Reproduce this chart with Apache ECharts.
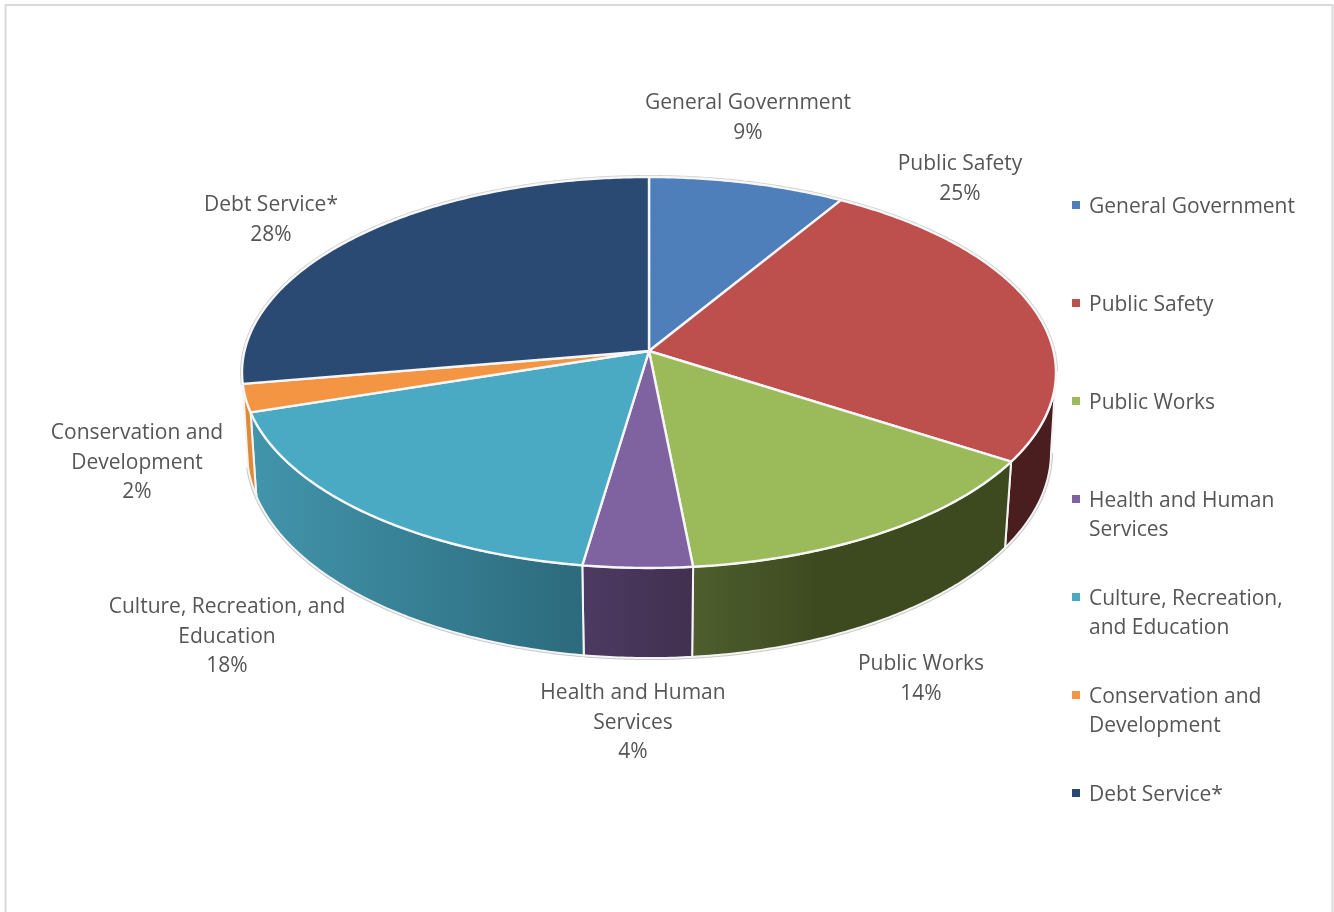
<!DOCTYPE html>
<html><head><meta charset="utf-8">
<style>html,body{margin:0;padding:0;background:#fff}#c{width:1334px;height:912px}</style>
<script src="https://cdn.jsdelivr.net/npm/echarts@6/dist/echarts.min.js"></script>
</head><body><div id="c"></div>
<script>
const categories = ['General Government','Public Safety','Public Works','Health and Human Services','Culture, Recreation, and Education','Conservation and Development','Debt Service*'];
const values = [8.7,25.4,14.4,3.9,17.7,2.3,27.7];
const legendLines = ['General Government','Public Safety','Public Works','Health and Human\nServices','Culture, Recreation,\nand Education','Conservation and\nDevelopment','Debt Service*'];
const labelLines = ['General Government','Public Safety','Public Works','Health and Human\nServices','Culture, Recreation, and\nEducation','Conservation and\nDevelopment','Debt Service*'];
const topColors = ['#4f7fbb','#bd4f4c','#9bba59','#7f62a0','#4aaac4','#f49543','#2a4a73'];
const wallColors = [null,['#4a1e1e','#4a1e1e'],['#4e5e2d','#3d4a20'],['#4c3a62','#423050'],['#4295ac','#2c6a7c'],['#e08a35','#e08a35'],null];
const wallMidStop = [1,1,0.4,1,1,1,1];
const labelPlaces = [[748,118],[960,179],[921,679],[633,723],[227,637],[137,463],[271,220]];

const FONT = '"Open Sans"';
const topPlane = {cx:649, cy:351, a:193.1, b:404.5, k:0.11};
const basePlane = {cx:649, cy:431.4, a:204, b:400, k:0.10};
const FRONT = [96*Math.PI/180, 260*Math.PI/180];
const total = values.reduce((s,v)=>s+v,0);
const angles = [0];
values.forEach((v,i)=>angles.push(angles[i]+v/total*2*Math.PI));

function project(p,t){
  const d = 1+p.k*Math.cos(t);
  return [p.cx+p.b*Math.sin(t)/d, p.cy-p.a*Math.cos(t)/d];
}
function arc(p,t0,t1){
  const n = Math.max(2,Math.ceil(Math.abs(t1-t0)/0.01));
  const pts=[];
  for(let i=0;i<=n;i++) pts.push(project(p,t0+(t1-t0)*i/n));
  return pts;
}
function renderWall(params){
  const i = params.dataIndex, kids=[];
  const t0=angles[i], t1=angles[i+1];
  [[t0,Math.min(t1,FRONT[0])],[Math.max(t0,FRONT[1]),t1]].forEach(r=>{
    if(r[1]>r[0]) kids.push({type:'polyline',shape:{points:arc(topPlane,r[0],r[1])},style:{fill:null,stroke:'#cfcfcf',lineWidth:4}});
  });
  const s=Math.max(t0,FRONT[0]), e=Math.min(t1,FRONT[1]);
  if(e>s && wallColors[i]){
    const c=wallColors[i];
    kids.push({type:'polyline',shape:{points:arc(basePlane,s,e)},style:{fill:null,stroke:'#c9c9c9',lineWidth:4}});
    kids.push({type:'polygon',shape:{points:arc(topPlane,s,e).concat(arc(basePlane,e,s))},
      style:{fill:new echarts.graphic.LinearGradient(0,0,1,0,[{offset:0,color:c[0]},{offset:wallMidStop[i],color:c[1]},{offset:1,color:c[1]}]),stroke:'#f4f4f4',lineWidth:2}});
  }
  return {type:'group',children:kids};
}
function renderTop(i){
  return function(){
    const pts=[[topPlane.cx,topPlane.cy]].concat(arc(topPlane,angles[i],angles[i+1]));
    const pct=Math.round(values[i]/total*100)+'%';
    return {type:'group',children:[
      {type:'polygon',shape:{points:pts},style:{fill:topColors[i],stroke:'#f6f6f6',lineWidth:2.4,lineJoin:'round'}},
      {type:'text',x:labelPlaces[i][0],y:labelPlaces[i][1],style:{text:labelLines[i]+'\n'+pct,align:'center',verticalAlign:'middle',
        font:'21px '+FONT,lineHeight:29.5,fill:'#565656'}}
    ]};
  };
}
const series=[{type:'custom',name:'walls',coordinateSystem:'none',z:1,silent:true,clip:false,data:values.map(v=>[v]),renderItem:renderWall}];
categories.forEach((name,i)=>series.push({type:'custom',name,coordinateSystem:'none',z:2,silent:true,
  itemStyle:{color:topColors[i]},data:[[values[i]]],renderItem:renderTop(i)}));

const chart=echarts.init(document.getElementById('c'),null,{renderer:'canvas'});
chart.setOption({
  animation:false,
  backgroundColor:'#fff',
  graphic:[{type:'polyline',silent:true,z:0,shape:{points:[[5.5,912],[5.5,5],[1332.5,5],[1332.5,912]]},style:{fill:null,stroke:'#d9d9d9',lineWidth:2}}],
  legend:{
    orient:'vertical',left:1067,top:187,itemGap:39,itemWidth:12,itemHeight:41,
    icon:'path://M0 0H8V8H0Z M12 41H12.01V41.01H12Z',symbolKeepAspect:false,selectedMode:false,
    data:categories.map((name,i)=>({name,itemStyle:{color:topColors[i]}})),
    formatter:name=>{const l=legendLines[categories.indexOf(name)];return l.includes('\n')?l:l+'\n ';},
    textStyle:{fontFamily:FONT,fontSize:21,lineHeight:29.5,color:'#565656'}
  },
  series
});
</script></body></html>
